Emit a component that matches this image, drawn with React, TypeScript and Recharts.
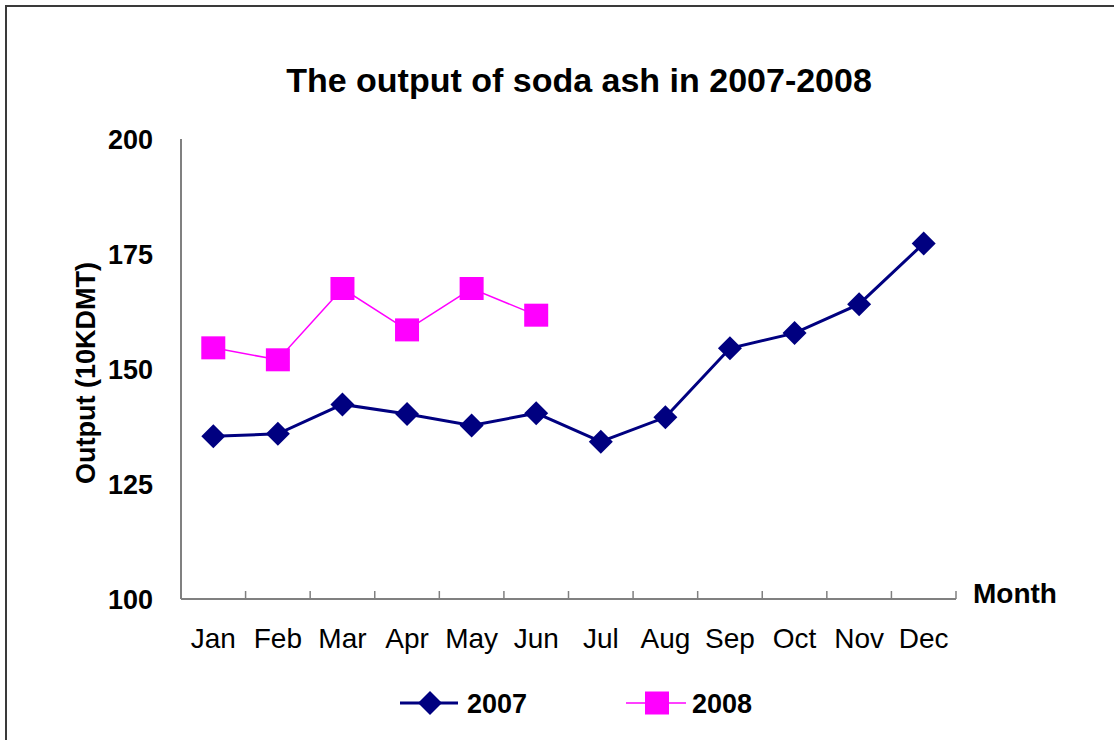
import { LineChart, Line, XAxis, YAxis } from "recharts";

const months = ["Jan", "Feb", "Mar", "Apr", "May", "Jun", "Jul", "Aug", "Sep", "Oct", "Nov", "Dec"];
const output2007 = [135.4, 135.9, 142.3, 140.2, 137.7, 140.4, 134.2, 139.5, 154.5, 157.8, 164.1, 177.3];
const output2008 = [154.6, 152.0, 167.5, 158.5, 167.5, 161.7];
const yTicks = [100, 125, 150, 175, 200];

const FONT = '"Liberation Sans", Arial, sans-serif';
const NAVY = "#000080";
const MAGENTA = "#FF00FF";
const AXIS = "#808080";

const data = months.map((m, i) => ({
  idx: i,
  month: m,
  y2007: output2007[i],
  y2008: i < output2008.length ? output2008[i] : null,
}));

const monthTicks = months.map((_, i) => i);
const boundaryTicks = [...months.map((_, i) => i - 0.5), months.length - 0.5];

const Diamond = (props: any) => {
  const { cx, cy } = props;
  if (cx == null || cy == null) return null;
  const r = 12;
  return (
    <polygon
      points={`${cx},${cy - r} ${cx + r},${cy} ${cx},${cy + r} ${cx - r},${cy}`}
      fill={NAVY}
    />
  );
};

const Square = (props: any) => {
  const { cx, cy, value } = props;
  if (cx == null || cy == null || value == null) return null;
  return <rect x={cx - 12} y={cy - 11.5} width={24} height={23} fill={MAGENTA} />;
};

export default function App() {
  return (
    <div
      style={{
        position: "absolute",
        left: 0,
        top: 0,
        width: 1114,
        height: 740,
        background: "#fff",
        fontFamily: FONT,
      }}
    >
      {/* chart frame, only top/left visible in the reference */}
      <div
        style={{
          position: "absolute",
          left: 5,
          top: 5,
          width: 1109,
          height: 735,
          borderTop: "2px solid #3a3a3a",
          borderLeft: "2px solid #3a3a3a",
          boxSizing: "border-box",
        }}
      />
      <div style={{ position: "absolute", left: 0, top: 0 }}>
        <LineChart
          width={1114}
          height={740}
          data={data}
          margin={{ top: 139, right: 158, left: 81, bottom: 81 }}
        >
          <XAxis
            xAxisId="bounds"
            type="number"
            dataKey="idx"
            domain={[-0.5, 11.5]}
            ticks={boundaryTicks}
            interval={0}
            mirror
            height={8}
            tickSize={8}
            tickFormatter={() => ""}
            axisLine={false}
            tickLine={{ stroke: AXIS, strokeWidth: 1.5 }}
          />
          <XAxis
            xAxisId="main"
            type="number"
            dataKey="idx"
            domain={[-0.5, 11.5]}
            ticks={monthTicks}
            interval={0}
            height={60}
            tickSize={0}
            tickMargin={29}
            tickLine={false}
            axisLine={{ stroke: AXIS, strokeWidth: 2 }}
            tickFormatter={(v: number) => months[v]}
            tick={{ fill: "#000", fontSize: 28, fontFamily: FONT }}
          />
          <YAxis
            yAxisId="bounds"
            type="number"
            domain={[100, 200]}
            ticks={yTicks}
            interval={0}
            mirror
            width={10}
            tickSize={9}
            tickFormatter={() => ""}
            axisLine={false}
            tickLine={{ stroke: AXIS, strokeWidth: 1.5 }}
          />
          <YAxis
            yAxisId="main"
            type="number"
            domain={[100, 200]}
            ticks={yTicks}
            interval={0}
            width={100}
            tickSize={0}
            tickMargin={28}
            tickLine={false}
            axisLine={{ stroke: AXIS, strokeWidth: 2 }}
            tick={{ fill: "#000", fontSize: 27, fontWeight: 700, fontFamily: FONT }}
          />
          <Line
            xAxisId="main"
            yAxisId="main"
            dataKey="y2007"
            name="2007"
            stroke={NAVY}
            strokeWidth={3}
            dot={<Diamond />}
            activeDot={false}
            isAnimationActive={false}
          />
          <Line
            xAxisId="main"
            yAxisId="main"
            dataKey="y2008"
            name="2008"
            stroke={MAGENTA}
            strokeWidth={1.5}
            dot={<Square />}
            activeDot={false}
            isAnimationActive={false}
          />
        </LineChart>
      </div>
      <svg
        width={1114}
        height={740}
        style={{ position: "absolute", left: 0, top: 0, pointerEvents: "none" }}
        fontFamily={FONT}
      >
        <text x={579} y={92} textAnchor="middle" fontSize={34} fontWeight={700} fill="#000">
          The output of soda ash in 2007-2008
        </text>
        <text x={973} y={603} fontSize={28} fontWeight={700} fill="#000">
          Month
        </text>
        <text
          transform="translate(95, 373) rotate(-90)"
          textAnchor="middle"
          fontSize={27}
          fontWeight={700}
          fill="#000"
        >
          Output (10KDMT)
        </text>
        {/* legend */}
        <line x1={400} y1={703} x2={458} y2={703} stroke={NAVY} strokeWidth={3} />
        <Diamond cx={430} cy={703} />
        <text x={467} y={713} fontSize={27} fontWeight={700} fill="#000">
          2007
        </text>
        <line x1={626} y1={703} x2={686} y2={703} stroke={MAGENTA} strokeWidth={1.5} />
        <Square cx={657} cy={703} value={1} />
        <text x={692} y={713} fontSize={27} fontWeight={700} fill="#000">
          2008
        </text>
      </svg>
    </div>
  );
}
